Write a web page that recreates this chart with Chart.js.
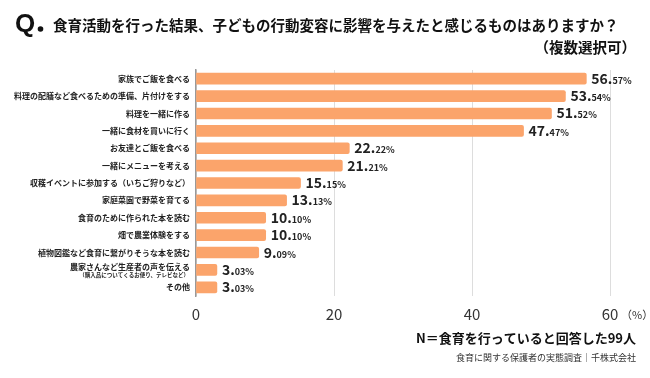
<!DOCTYPE html>
<html><head><meta charset="utf-8">
<script src="https://cdn.jsdelivr.net/npm/chart.js@4/dist/chart.umd.min.js"></script>
<style>html,body{margin:0;padding:0;background:#fff}#wrap{width:650px;height:378px;position:relative}</style>
</head><body><div id="wrap"><canvas id="c" width="650" height="378"></canvas></div>
<script>
const categories = [
  ['家族でご飯を食べる'],
  ['料理の配膳など食べるための準備、片付けをする'],
  ['料理を一緒に作る'],
  ['一緒に食材を買いに行く'],
  ['お友達とご飯を食べる'],
  ['一緒にメニューを考える'],
  ['収穫イベントに参加する（いちご狩りなど）'],
  ['家庭菜園で野菜を育てる'],
  ['食育のために作られた本を読む'],
  ['畑で農業体験をする'],
  ['植物図鑑など食育に繋がりそうな本を読む'],
  ['農家さんなど生産者の声を伝える', '（購入品についてくるお便り、テレビなど）'],
  ['その他']
];
const values = [56.57, 53.54, 51.52, 47.47, 22.22, 21.21, 15.15, 13.13, 10.10, 10.10, 9.09, 3.03, 3.03];
const xTicks = [0, 20, 40, 60];
const titleText = '食育活動を行った結果、子どもの行動変容に影響を与えたと感じるものはありますか？';
const subTitle = '（複数選択可）';
const noteText = 'N＝食育を行っていると回答した99人';
const sourceText = '食育に関する保護者の実態調査｜千株式会社';

const FONT = '"Noto Sans CJK JP", "Noto Sans", sans-serif';

const decor = {
  id: 'decor',
  afterDraw(chart) {
    const ctx = chart.ctx;
    const y = chart.scales.y, x = chart.scales.x;
    ctx.save();
    // category labels
    ctx.textAlign = 'right';
    ctx.fillStyle = '#222';
    categories.forEach((lab, i) => {
      const py = y.getPixelForTick(i);
      if (lab.length === 1) {
        ctx.font = 'bold 8px ' + FONT;
        ctx.textBaseline = 'middle';
        ctx.fillText(lab[0], 190, py);
      } else {
        ctx.font = 'bold 8px ' + FONT;
        ctx.textBaseline = 'middle';
        ctx.fillText(lab[0], 190, py - 3);
        ctx.font = 'bold 5.5px ' + FONT;
        ctx.fillText(lab[1], 189, py + 5);
      }
    });
    // value labels
    const meta = chart.getDatasetMeta(0);
    ctx.textAlign = 'left';
    ctx.textBaseline = 'alphabetic';
    meta.data.forEach((bar, i) => {
      const s = values[i].toFixed(2).split('.');
      const big = s[0] + '.';
      const small = s[1] + '%';
      const bx = bar.x + 5, by = bar.y + 5;
      ctx.fillStyle = '#222';
      ctx.font = 'bold 14px ' + FONT;
      ctx.fillText(big, bx, by);
      const w = ctx.measureText(big).width;
      ctx.font = 'bold 9px ' + FONT;
      ctx.fillText(small, bx + w, by);
    });
    // (%) unit
    ctx.fillStyle = '#333';
    ctx.font = '11px ' + FONT;
    ctx.textBaseline = 'middle';
    ctx.fillText('（%）', x.getPixelForValue(60) + 11, 315);
    // title
    ctx.fillStyle = '#111';
    ctx.font = 'bold 26px "Liberation Sans", Arial, sans-serif';
    ctx.textBaseline = 'alphabetic';
    ctx.fillText('Q', 15, 32);
    ctx.beginPath();
    ctx.arc(40.5, 29, 2.8, 0, Math.PI * 2);
    ctx.fill();
    ctx.font = 'bold 14.5px ' + FONT;
    ctx.textBaseline = 'middle';
    ctx.fillText(titleText, 53, 25);
    ctx.textAlign = 'right';
    ctx.fillText(subTitle, 636, 47);
    // note + source
    ctx.font = 'bold 13px ' + FONT;
    ctx.fillText(noteText, 636, 338);
    ctx.font = '9px ' + FONT;
    ctx.fillStyle = '#333';
    ctx.fillText(sourceText, 636, 358);
    ctx.restore();
  }
};

new Chart(document.getElementById('c'), {
  type: 'bar',
  data: {
    labels: categories.map(c => c.join(' ')),
    datasets: [{
      data: values,
      backgroundColor: '#FBA46B',
      borderRadius: 2,
      borderSkipped: 'start',
      barThickness: 11
    }]
  },
  options: {
    indexAxis: 'y',
    responsive: false,
    animation: false,
    devicePixelRatio: 1,
    layout: { padding: { left: 0, right: 40, top: 70, bottom: 0 } },
    plugins: { legend: { display: false }, tooltip: { enabled: false }, title: { display: false } },
    scales: {
      x: {
        min: 0, max: 60,
        afterBuildTicks: s => { s.ticks = xTicks.map(v => ({ value: v })); },
        afterFit: s => { s.height = 82; },
        ticks: { color: '#333', font: { family: FONT, size: 15 }, padding: 9 },
        grid: { color: '#dddddd', lineWidth: 1, drawTicks: false },
        border: { display: false }
      },
      y: {
        afterFit: s => { s.width = 196; },
        ticks: { display: false },
        grid: { display: false, drawTicks: false },
        border: { display: true, color: '#999', width: 1.5 }
      }
    }
  },
  plugins: [decor]
});
</script></body></html>
